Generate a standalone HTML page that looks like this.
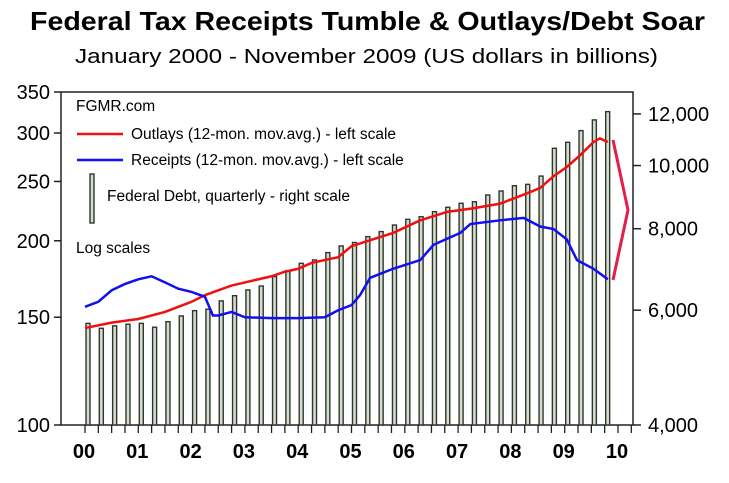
<!DOCTYPE html>
<html><head><meta charset="utf-8"><style>
body{margin:0;background:#fff}
svg{display:block;font-family:"Liberation Sans",Arial,sans-serif}
</style></head><body>
<svg id="chart" width="729" height="483" viewBox="0 0 729 483" xmlns="http://www.w3.org/2000/svg">
<text x="30" y="30" font-size="26" font-weight="bold" textLength="675" lengthAdjust="spacingAndGlyphs">Federal Tax Receipts Tumble &amp; Outlays/Debt Soar</text>
<text x="75" y="63" font-size="20" textLength="583" lengthAdjust="spacingAndGlyphs">January 2000 - November 2009 (US dollars in billions)</text>
<rect x="61" y="92" width="572" height="333" fill="none" stroke="#222" stroke-width="1.5"/>
<g id="bars"></g><g id="lines"></g><g id="axes"></g>
<text x="76" y="111" font-size="15.5">FGMR.com</text>
<line x1="77" y1="134" x2="123" y2="134" stroke="#f01010" stroke-width="2.5"/>
<text x="131" y="139" font-size="15.5">Outlays (12-mon. mov.avg.) - left scale</text>
<line x1="77" y1="160" x2="123" y2="160" stroke="#1010f0" stroke-width="2.5"/>
<text x="131" y="165" font-size="15.5">Receipts (12-mon. mov.avg.) - left scale</text>
<rect x="90" y="174" width="4" height="49" fill="#d0e0c8" stroke="#333" stroke-width="1.4"/>
<text x="107" y="201" font-size="15.5">Federal Debt, quarterly - right scale</text>
<text x="76" y="253" font-size="15.5">Log scales</text>
<polyline points="613,140 628,210 613,280" fill="none" stroke="#e0204a" stroke-width="3"/>
</svg>
<script>
const debtDates=[2000,2000.25,2000.5,2000.75,2001,2001.25,2001.5,2001.75,2002,2002.25,2002.5,2002.75,2003,2003.25,2003.5,2003.75,2004,2004.25,2004.5,2004.75,2005,2005.25,2005.5,2005.75,2006,2006.25,2006.5,2006.75,2007,2007.25,2007.5,2007.75,2008,2008.25,2008.5,2008.75,2009,2009.25,2009.5,2009.75];
const debtValues=[5727,5628,5677,5710,5727,5650,5761,5880,5990,6020,6200,6315,6445,6535,6757,6900,7080,7165,7353,7528,7620,7780,7920,8105,8270,8346,8497,8630,8752,8800,9013,9140,9312,9357,9635,10628,10855,11313,11749,12097];
const outlayDates=[2000,2000.5,2001,2001.5,2001.75,2002,2002.25,2002.5,2002.75,2003,2003.5,2003.75,2004,2004.25,2004.5,2004.75,2005,2005.16,2005.78,2006.29,2006.8,2007.29,2007.79,2008.29,2008.54,2008.79,2009.04,2009.29,2009.54,2009.66,2009.81];
const outlayValues=[144,147,149,153,156,159,163,166,169,171,175,178,180,184,186,188,196,198,206,216,223,226,230,239,244,255,264,276,290,294,290];
const receiptDates=[2000,2000.25,2000.5,2000.75,2001,2001.25,2001.5,2001.75,2002,2002.25,2002.4,2002.5,2002.75,2003,2003.5,2004,2004.5,2004.75,2005,2005.16,2005.35,2005.78,2006.29,2006.54,2007.04,2007.23,2007.79,2008.23,2008.54,2008.79,2009.04,2009.23,2009.54,2009.81];
const receiptValues=[156,159,166,170,173,175,171,167,165,162,151,151,153,150,149.5,149.5,150,154,157,163,174,180,186,197,206,213,216,218,211,209,201,186,180,173];
const leftTicks=[100,150,200,250,300,350];
const rightTicks=[4000,6000,8000,10000,12000];
const yearLabels=["00","01","02","03","04","05","06","07","08","09","10"];

const NS="http://www.w3.org/2000/svg";
const X0=85,PX=53.3,BOT=425;
const xs=t=>X0+(t-2000)*PX;
const yl=v=>BOT-Math.log10(v/100)*612;
const yr=v=>BOT-Math.log10(v/4000)*652;
function mk(tag,attrs,parent){const e=document.createElementNS(NS,tag);for(const k in attrs)e.setAttribute(k,attrs[k]);parent.appendChild(e);return e;}
const gb=document.getElementById('bars'),gl=document.getElementById('lines'),ga=document.getElementById('axes');
debtDates.forEach((d,i)=>{
  const x=xs(d)+3,y=yr(debtValues[i]);
  const r=mk('rect',{x:x-2,y:y,width:4,height:BOT-y,fill:'#d0e0c8',stroke:'#333','stroke-width':1.4},gb);
  
  
});
function line(dates,vals,color,name){
  const p=mk('polyline',{points:dates.map((d,i)=>xs(d)+','+yl(vals[i])).join(' '),fill:'none',stroke:color,'stroke-width':2.5},gl);
  
  
}
line(outlayDates,outlayValues,'#f01010','outlays-line');
line(receiptDates,receiptValues,'#1010f0','receipts-line');
leftTicks.forEach(v=>{
  const y=yl(v);
  const l=mk('line',{x1:54,y1:y,x2:61,y2:y,stroke:'#222','stroke-width':1.5},ga);
  
  
  const t=mk('text',{x:50,y:y+7,'font-size':20,'text-anchor':'end'},ga);t.textContent=v;
  
  
});
rightTicks.forEach(v=>{
  const y=yr(v);
  const l=mk('line',{x1:633,y1:y,x2:641,y2:y,stroke:'#222','stroke-width':1.5},ga);
  
  
  const t=mk('text',{x:648,y:y+7,'font-size':20},ga);t.textContent=v.toLocaleString('en-US');
  
  
});
for(let q=0;q<=41;q++){
  const x=xs(2000+q*0.25);
  const l=mk('line',{x1:x,y1:BOT,x2:x,y2:BOT+8,stroke:'#222','stroke-width':1.3},ga);
  
  
}
yearLabels.forEach((s,i)=>{
  const t=mk('text',{x:xs(2000+i)-1,y:458,'font-size':20,'text-anchor':'middle','font-weight':'bold'},ga);t.textContent=s;
  
  
});
</script>
</body></html>
